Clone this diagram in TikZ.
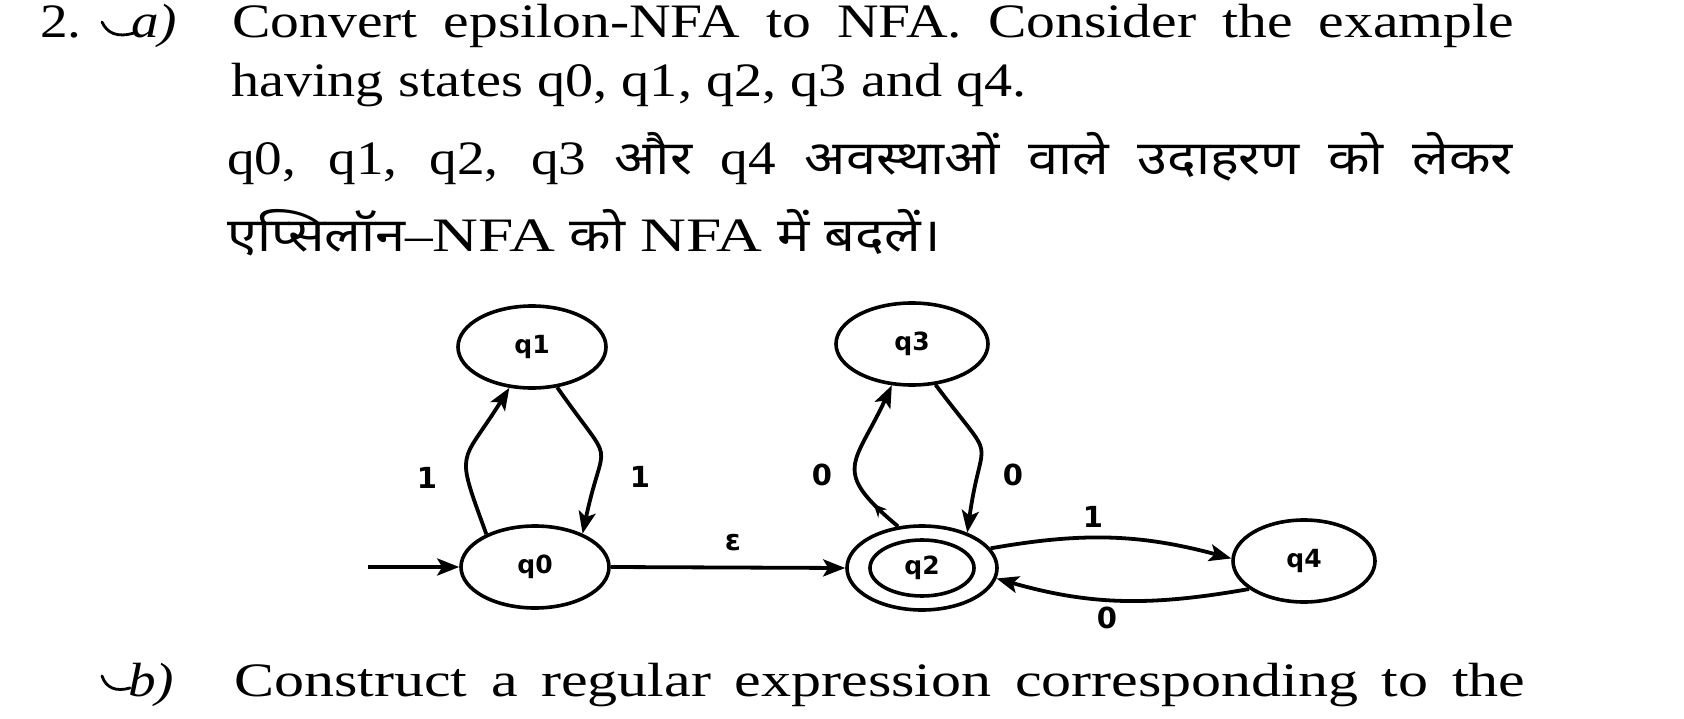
\documentclass[tikz,border=0pt]{standalone}
\usepackage{fontspec}
\usepackage{graphicx}
\setmainfont{Liberation Serif}
\newfontfamily\devafont[Script=Devanagari]{Noto Sans}
\newfontfamily\diagfont{DejaVu Sans}
\usetikzlibrary{shapes.geometric,arrows.meta,decorations.markings}
\newcommand{\mybig}{\fontsize{48}{56}\selectfont}
\newcommand{\hin}[1]{{\devafont\fontsize{47}{54}\selectfont #1}}
\begin{document}
\begin{tikzpicture}[x=1pt,y=1pt,
  state/.style={ellipse,draw,line width=3.6pt,inner sep=0pt,minimum width=148pt,minimum height=82pt,font=\diagfont\bfseries\fontsize{25}{27}\selectfont},
  edgearrow/.style={draw,line width=3.8pt,-{Stealth[length=22pt,width=17pt,inset=5pt]}},
  lbl/.style={inner sep=0pt,font=\diagfont\bfseries\fontsize{29}{31}\selectfont},
  txtline/.style={anchor=base west,inner sep=0pt,font=\mybig},
  tick/.style={line width=2.8pt,line cap=round}
]
\fill[white] (0,0) rectangle (1684,-719);
\useasboundingbox (0,0) rectangle (1684,-719);

% question text
\node[txtline] (num) at (40,-38) {\scalebox{1.15}[1]{2.}};
\draw[tick] (102,-22) .. controls (107,-33) and (117,-38) .. (134,-33);
\node[txtline] (pa) at (131,-38) {\scalebox{1.15}[1]{\itshape a)}};
\node[txtline] (l1) at (232,-38) {\scalebox{1.2}[1]{\makebox[1068pt][s]{Convert epsilon-NFA to NFA. Consider the example}}};
\node[txtline] (l2) at (231,-97) {\scalebox{1.17}[1]{\makebox[680pt][s]{having states q0, q1, q2, q3 and q4.}}};
\node[txtline] (l3) at (227,-175) {\scalebox{1.15}[1]{\makebox[1118pt][s]{q0, q1, q2, q3 \hin{और} q4 \hin{अवस्थाओं} \hin{वाले} \hin{उदाहरण} \hin{को} \hin{लेकर}}}};
\node[txtline] (l4) at (227,-252) {\scalebox{1.15}[1]{\makebox[621pt][s]{\hin{एप्सिलॉन}–\scalebox{1.15}[1]{NFA} \hin{को} \scalebox{1.15}[1]{NFA} \hin{में} \hin{बदलें।}}}};
\draw[tick] (102,-676) .. controls (106,-688) and (116,-692) .. (130,-688);
\node[txtline] (pb) at (128,-696) {\scalebox{1.15}[1]{\itshape b)}};
\node[txtline] (l5) at (234,-696) {\scalebox{1.25}[1]{\makebox[1033pt][s]{Construct a regular expression corresponding to the}}};

% automaton
\node[state] (q1) at (532,-347) {q1};
\node[state] (q0) at (535,-567) {q0};
\node[state,minimum width=152pt] (q3) at (912,-344) {q3};
\node[state,minimum width=150pt,minimum height=84pt] (q2) at (922,-568) {};
\node[state,minimum width=104pt,minimum height=56pt] (q2in) at (q2.center) {q2};
\node[state,minimum width=142pt] (q4) at (1304,-561) {q4};
\coordinate (init) at (368,-567);

\path[edgearrow] (init) -- (q0.west);
\path[edgearrow] (q0.east) -- (q2.west);
\path[edgearrow] (q0.146) to[out=110,in=238,looseness=1.6] (q1.241);
\path[edgearrow] (q1.302) to[out=-55,in=78,looseness=1.8] (q0.35);
\path[edgearrow,postaction={decorate},decoration={markings,mark=at position 0.2 with {\arrow{Stealth[length=13pt,width=12pt]}}}] (q2.120) to[out=140,in=245,looseness=1.6] (q3.244);
\path[edgearrow] (q3.300) to[out=-53,in=82,looseness=1.8] (q2.38);
\path[edgearrow] (q2.16) to[out=10,in=165] (q4.178);
\path[edgearrow] (q4.207) to[out=190,in=344] (q2.352);

\node[lbl] (e01) at (427,-478) {1};
\node[lbl] (e10) at (640,-477) {1};
\node[lbl] (e23) at (822,-475) {0};
\node[lbl] (e32) at (1013,-475) {0};
\node[lbl] (eps) at (733,-543) {ε};
\node[lbl] (e24) at (1093,-517) {1};
\node[lbl] (e42) at (1107,-618) {0};
\end{tikzpicture}
\end{document}
